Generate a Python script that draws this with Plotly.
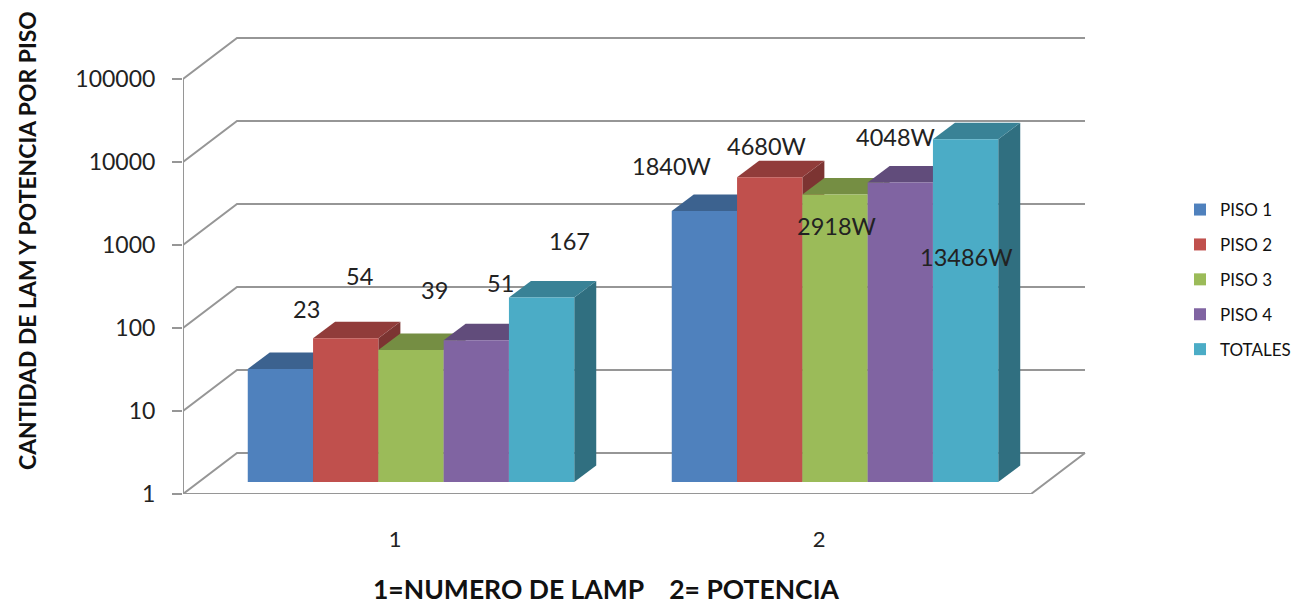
import math
import plotly.graph_objects as go

# ---- data ----
categories = [1, 2]
series_names = ["PISO 1", "PISO 2", "PISO 3", "PISO 4", "TOTALES"]
piso_1 = [23, 1840]
piso_2 = [54, 4680]
piso_3 = [39, 2918]
piso_4 = [51, 4048]
totales = [167, 13486]
y_ticks = [1, 10, 100, 1000, 10000, 100000]
colors = ["#4F81BD", "#C0504D", "#9BBB59", "#8064A2", "#4BACC6"]
series_values = [piso_1, piso_2, piso_3, piso_4, totales]

# ---- geometry: page pixels; the page body has an 8px margin ----
PAGE = 8
W, H = 1300 - PAGE, 608 - PAGE
PX_PER_CAT, PX_PER_DEC = 424.0, 83.0
X0, Y0 = 183.0 - PAGE, 494.0 - PAGE   # front-plane corner (x=0.5, y=1)
X_RANGE = [0.5, 2.7]
LOG_RANGE = [0.0, 5.6]
BAR_SHIFT = (16.0, 12.0)       # bar plane offset from the front plane
WALL = (54.0 / PX_PER_CAT, 41.0 / PX_PER_DEC)   # back wall depth, data units
DEPTH = (22.0 / PX_PER_CAT, 16.5 / PX_PER_DEC)  # bar depth, data units
GAP = 0.23
BAR_W = (1 - GAP) / len(series_names)
GRID = "#969696"
FONT = "Lato"
TEXT = "#222222"


def xdom(x0):
    return [x0 / W, (x0 + (X_RANGE[1] - X_RANGE[0]) * PX_PER_CAT) / W]


def ydom(y0):
    return [(H - y0) / H, (H - y0 + (LOG_RANGE[1] - LOG_RANGE[0]) * PX_PER_DEC) / H]


def shade(hex_color, f):
    r, g, b = (int(hex_color[i:i + 2], 16) for i in (1, 3, 5))
    return f"rgb({int(r * f)},{int(g * f)},{int(b * f)})"


fig = go.Figure()

# ---- scaffold: side-wall diagonals, back-wall gridlines, floor ----
k = 10 ** WALL[1]
xs, ys = [], []
left, right = 0.5, 2.5
for t in y_ticks:
    xs += [left, left + WALL[0], right + WALL[0], None]
    ys += [t, t * k, t * k, None]
xs += [left, left, None, left, right, right + WALL[0], None]
ys += [y_ticks[0], y_ticks[-1], None, 1, 1, k, None]
fig.add_trace(go.Scatter(x=xs, y=ys, mode="lines", line=dict(color=GRID, width=2),
                         showlegend=False, hoverinfo="skip", xaxis="x", yaxis="y"))

# ---- depth faces of the bars, drawn in a layer below the front faces ----
kd = 10 ** DEPTH[1]
for gi, cat in enumerate(categories):
    for si, (vals, col) in enumerate(zip(series_values, colors)):
        v = vals[gi]
        xl = cat + (si - (len(series_names) - 1) / 2 - 0.5) * BAR_W
        xr = xl + BAR_W
        fig.add_trace(go.Scatter(
            x=[xr, xr + DEPTH[0], xr + DEPTH[0], xr, xr],
            y=[1, kd, v * kd, v, 1],
            mode="lines", fill="toself", fillcolor=shade(col, 0.65),
            line=dict(width=0), showlegend=False, hoverinfo="skip",
            xaxis="x2", yaxis="y2"))
        fig.add_trace(go.Scatter(
            x=[xl, xr, xr + DEPTH[0], xl + DEPTH[0], xl],
            y=[v, v, v * kd, v * kd, v],
            mode="lines", fill="toself", fillcolor=shade(col, 0.76),
            line=dict(width=0), showlegend=False, hoverinfo="skip",
            xaxis="x2", yaxis="y2"))

# ---- front faces ----
for name, vals, col in zip(series_names, series_values, colors):
    fig.add_trace(go.Bar(name=name, x=categories, y=vals, marker=dict(color=col, line=dict(width=0)),
                         legendgroup=name, xaxis="x3", yaxis="y3"))

# ---- hand-placed data labels: offsets in px from the top centre of each bar ----
label_offsets = [
    [(26, 60), (14, 62), (23, 60), (24, 57), (28, 57)],
    [(-33, 45), (-3, 31), (1, -32), (-5, 46), (0, -118)],
]
suffix = ["", "W"]
annotations = []
for gi, cat in enumerate(categories):
    for si, vals in enumerate(series_values):
        annotations.append(dict(
            x=cat + (si - (len(series_names) - 1) / 2) * BAR_W,
            y=math.log10(vals[gi]), xref="x3", yref="y3",
            text=f"{vals[gi]}{suffix[gi]}", showarrow=False,
            xshift=label_offsets[gi][si][0], yshift=label_offsets[gi][si][1],
            font=dict(family=FONT, size=23.5, color=TEXT)))

annotations.append(dict(x=(606 - PAGE) / W, y=(H - (589 - PAGE)) / H, xref="paper", yref="paper",
                        xanchor="center", yanchor="middle", showarrow=False,
                        text="1=NUMERO DE LAMP    2= POTENCIA",
                        font=dict(family=FONT, size=26.5, color="#111111", weight="bold")))
annotations.append(dict(x=(27 - PAGE) / W, y=(H - (241 - PAGE)) / H, xref="paper", yref="paper",
                        xanchor="center", yanchor="middle", showarrow=False,
                        text="CANTIDAD DE LAM Y POTENCIA POR PISO", textangle=-90,
                        font=dict(family=FONT, size=22.9, color="#111111", weight="bold")))

hidden = dict(visible=False)
fig.update_layout(
    width=W, height=H, autosize=False,
    margin=dict(l=0, r=0, t=0, b=0, autoexpand=False),
    paper_bgcolor="white", plot_bgcolor="rgba(0,0,0,0)",
    barmode="group", bargap=GAP, bargroupgap=0,
    xaxis=dict(domain=xdom(X0), range=X_RANGE, tickmode="array", tickvals=categories,
               ticktext=[str(c) for c in categories], showgrid=False, zeroline=False,
               ticks="", ticklabelstandoff=30,
               tickfont=dict(family=FONT, size=22, color=TEXT), anchor="y"),
    yaxis=dict(domain=ydom(Y0), type="log", range=LOG_RANGE, tickmode="array", tickvals=y_ticks,
               ticktext=[str(t) for t in y_ticks], showgrid=False, zeroline=False,
               ticks="outside", ticklen=10, tickwidth=2, tickcolor=GRID, ticklabelstandoff=12,
               tickfont=dict(family=FONT, size=23, color=TEXT), anchor="x"),
    xaxis2=dict(domain=xdom(X0 + BAR_SHIFT[0]), range=X_RANGE, anchor="y2", **hidden),
    yaxis2=dict(domain=ydom(Y0 - BAR_SHIFT[1]), type="log", range=LOG_RANGE, anchor="x2", **hidden),
    xaxis3=dict(domain=xdom(X0 + BAR_SHIFT[0]), range=X_RANGE, anchor="y3", **hidden),
    yaxis3=dict(domain=ydom(Y0 - BAR_SHIFT[1]), type="log", range=LOG_RANGE, anchor="x3", **hidden),
    legend=dict(x=(1180 - PAGE) / W, xanchor="left", y=(H - (192 - PAGE)) / H, yanchor="top",
                traceorder="grouped", tracegroupgap=9.8, itemwidth=30,
                bgcolor="rgba(0,0,0,0)", borderwidth=0,
                font=dict(family=FONT, size=17, color="#111111")),
    annotations=annotations,
)

fig.write_html("out.html")
